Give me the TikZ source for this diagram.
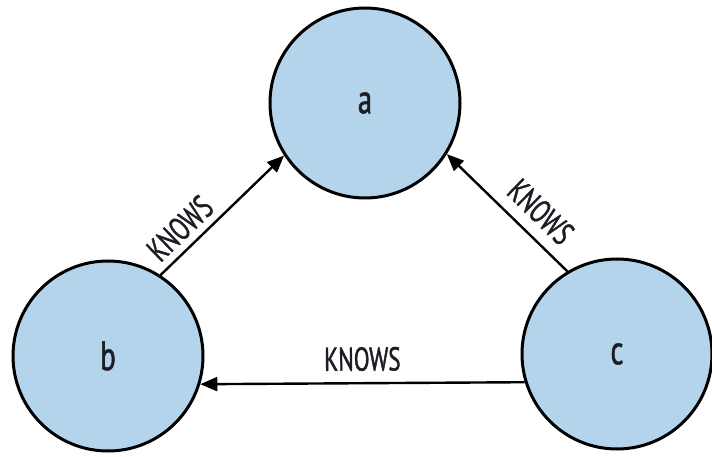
\documentclass[tikz,border=0pt]{standalone}
\usepackage{fontspec}
\setmainfont{PT Sans}
% narrow, slightly heavier than regular
\newfontfamily\labelfont{PT Sans}[FakeBold=1.2, FakeStretch=0.7]
\usetikzlibrary{arrows.meta}
\definecolor{nodefill}{RGB}{180,212,236}
\definecolor{ink}{RGB}{28,30,36}
\begin{document}
\begin{tikzpicture}[x=1pt,y=-1pt,
  vertex/.style={circle, draw=black, line width=3pt, fill=nodefill,
    minimum size=190pt, inner sep=0pt, text=ink,
    font=\fontsize{41}{41}\labelfont},
  rel/.style={line width=2.4pt, draw=black,
    -{Triangle[length=17pt,width=14pt]}},
  lbl/.style={font=\fontsize{33}{33}\labelfont, text=ink,
    inner sep=10pt, sloped, above}]
\useasboundingbox (0,0) rectangle (712,457);
% the three people
\node[vertex] (a) at (365,103) {a};
\node[vertex] (b) at (108,356) {b};
\node[vertex] (c) at (617,354) {c};
% KNOWS relationships
\draw[rel] (b.57) -- (a.213)
  node[lbl, pos=0.27, inner sep=7pt] {KNOWS};
\draw[rel] (c.121) -- (a.328)
  node[lbl, pos=0.36, inner sep=11pt] {KNOWS};
\draw[rel] (c.197) -- (b.343)
  node[lbl, pos=0.5, inner sep=11pt] {KNOWS};
\end{tikzpicture}
\end{document}
